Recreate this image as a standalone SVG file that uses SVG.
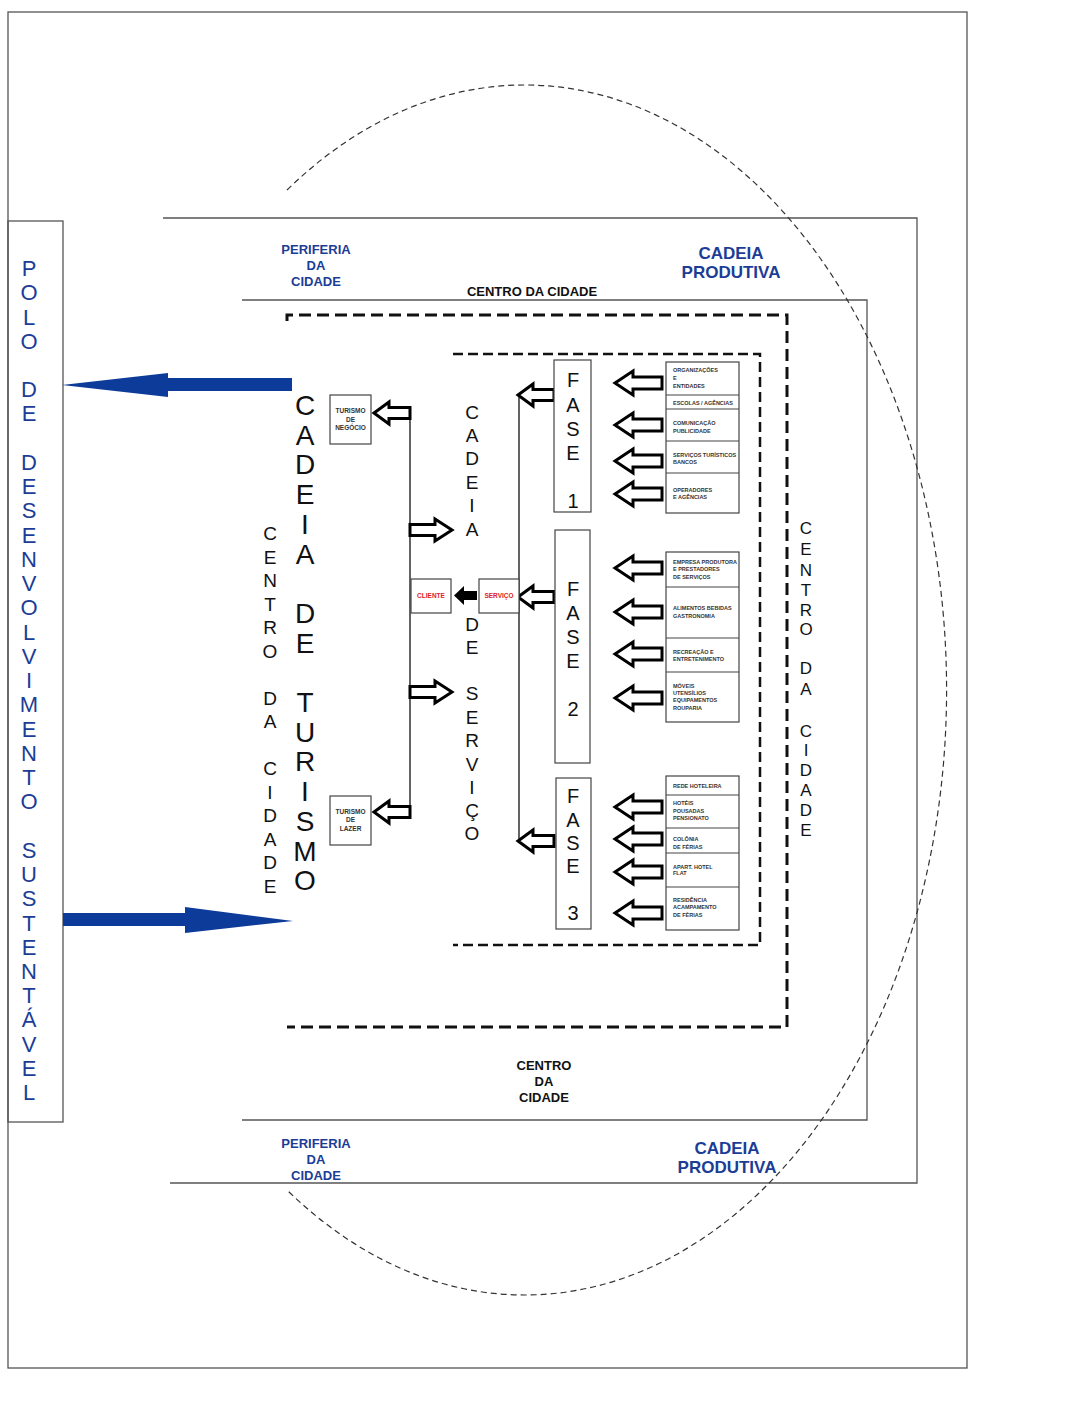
<svg xmlns="http://www.w3.org/2000/svg" xmlns:xlink="http://www.w3.org/1999/xlink" width="1065" height="1423" viewBox="0 0 1065 1423">
<style>
.frame{fill:none;stroke:#555;stroke-width:1.3}
.blk{fill:none;stroke:#222;stroke-width:1.4}
.box{fill:#fff;stroke:#444;stroke-width:1.2}
.harr{fill:#fff;stroke:#000;stroke-width:3;stroke-linejoin:miter}
.blue{fill:#1c3d96;font-family:"Liberation Sans",Arial,sans-serif;font-weight:bold;text-anchor:middle}
.cap{fill:#111;font-family:"Liberation Sans",Arial,sans-serif;font-weight:bold;font-size:13px;text-anchor:middle}
.vert{fill:#111;font-family:"Liberation Sans",Arial,sans-serif;text-anchor:middle}
.polo{fill:#1c3d96;font-family:"Liberation Sans",Arial,sans-serif;font-size:22px;text-anchor:middle}
.sm{fill:#333;font-family:"Liberation Sans",Arial,sans-serif;font-weight:bold;font-size:5.5px}
.tur{fill:#333;font-family:"Liberation Sans",Arial,sans-serif;font-weight:bold;font-size:6.5px;text-anchor:middle}
.red{fill:#e0201e;font-family:"Liberation Sans",Arial,sans-serif;font-weight:bold;font-size:6.5px;text-anchor:middle}
</style>
<defs>
<path id="arrA" d="M0,0 L18,-12 L18,-6 L47,-6 L47,6 L18,6 L18,12 Z"/>
<path id="arrB" d="M0,0 L15,-11 L15,-5.5 L36,-5.5 L36,5.5 L15,5.5 L15,11 Z"/>
<path id="arrR" d="M42,0 L25,-11 L25,-5.5 L0,-5.5 L0,5.5 L25,5.5 L25,11 Z"/>
</defs>
<rect width="1065" height="1423" fill="#fff"/>

<g id="regions">
<rect class="frame" x="8" y="12" width="959" height="1356"/>
<path class="frame" d="M163,218 L917,218 L917,1183 L170,1183"/>
<path class="frame" d="M242,300 L867,300 L867,1120 L242,1120"/>
<path d="M287,321 L287,315 L787,315 L787,1027 L287,1027" fill="none" stroke="#111" stroke-width="3" stroke-dasharray="12 6"/>
<path d="M453,354 L760,354 L760,945 L453,945" fill="none" stroke="#111" stroke-width="2.5" stroke-dasharray="10 5"/>
<path d="M287,190 A422,605 0 1 1 287,1190" fill="none" stroke="#333" stroke-width="1.2" stroke-dasharray="6 4"/>
</g>

<g id="labels">
<text class="blue" font-size="13"><tspan x="316" y="254">PERIFERIA</tspan><tspan x="316" y="270">DA</tspan><tspan x="316" y="286">CIDADE</tspan></text>
<text class="blue" font-size="17"><tspan x="731" y="259">CADEIA</tspan><tspan x="731" y="278">PRODUTIVA</tspan></text>
<text class="cap" x="532" y="296">CENTRO DA CIDADE</text>
<text class="cap"><tspan x="544" y="1070">CENTRO</tspan><tspan x="544" y="1086">DA</tspan><tspan x="544" y="1102">CIDADE</tspan></text>
<text class="blue" font-size="13"><tspan x="316" y="1148">PERIFERIA</tspan><tspan x="316" y="1164">DA</tspan><tspan x="316" y="1180">CIDADE</tspan></text>
<text class="blue" font-size="17"><tspan x="727" y="1154">CADEIA</tspan><tspan x="727" y="1173">PRODUTIVA</tspan></text>
</g>

<g id="polo">
<rect class="frame" x="8" y="221" width="55" height="901"/>
<text class="polo"><tspan x="29" y="276">P</tspan><tspan x="29" y="300">O</tspan><tspan x="29" y="324.5">L</tspan><tspan x="29" y="348.7">O</tspan><tspan x="29" y="397.2">D</tspan><tspan x="29" y="421.4">E</tspan><tspan x="29" y="469.9">D</tspan><tspan x="29" y="494.2">E</tspan><tspan x="29" y="518.4">S</tspan><tspan x="29" y="542.6">E</tspan><tspan x="29" y="566.9">N</tspan><tspan x="29" y="591.1">V</tspan><tspan x="29" y="615.4">O</tspan><tspan x="29" y="639.6">L</tspan><tspan x="29" y="663.8">V</tspan><tspan x="29" y="688.1">I</tspan><tspan x="29" y="712.3">M</tspan><tspan x="29" y="736.6">E</tspan><tspan x="29" y="760.8">N</tspan><tspan x="29" y="785">T</tspan><tspan x="29" y="809.3">O</tspan><tspan x="29" y="857.8">S</tspan><tspan x="29" y="882">U</tspan><tspan x="29" y="906.2">S</tspan><tspan x="29" y="930.5">T</tspan><tspan x="29" y="954.7">E</tspan><tspan x="29" y="979">N</tspan><tspan x="29" y="1003.2">T</tspan><tspan x="29" y="1027.4">Á</tspan><tspan x="29" y="1051.7">V</tspan><tspan x="29" y="1075.9">E</tspan><tspan x="29" y="1100.2">L</tspan></text>
</g>

<g id="blue-arrows" fill="#0d3b9a">
<path d="M292,378 L168,378 L168,373 L62,385 L168,397 L168,391 L292,391 Z"/>
<path d="M63,913 L185,913 L185,907 L293,921 L185,933 L185,926 L63,926 Z"/>
</g>

<g id="centro-esq">
<text class="vert" font-size="19"><tspan x="270" y="540">C</tspan><tspan x="270" y="563.5">E</tspan><tspan x="270" y="587">N</tspan><tspan x="270" y="610.5">T</tspan><tspan x="270" y="634">R</tspan><tspan x="270" y="657.5">O</tspan><tspan x="270" y="704.5">D</tspan><tspan x="270" y="728">A</tspan><tspan x="270" y="775">C</tspan><tspan x="270" y="798.5">I</tspan><tspan x="270" y="822">D</tspan><tspan x="270" y="845.5">A</tspan><tspan x="270" y="869">D</tspan><tspan x="270" y="892.5">E</tspan></text>
</g>

<g id="cadeia-turismo">
<text class="vert" font-size="28"><tspan x="305" y="415">C</tspan><tspan x="305" y="444.7">A</tspan><tspan x="305" y="474.4">D</tspan><tspan x="305" y="504.1">E</tspan><tspan x="305" y="533.8">I</tspan><tspan x="305" y="563.5">A</tspan><tspan x="305" y="622.9">D</tspan><tspan x="305" y="652.6">E</tspan><tspan x="305" y="712">T</tspan><tspan x="305" y="741.7">U</tspan><tspan x="305" y="771.4">R</tspan><tspan x="305" y="801.1">I</tspan><tspan x="305" y="830.8">S</tspan><tspan x="305" y="860.5">M</tspan><tspan x="305" y="890.2">O</tspan></text>
</g>

<g id="cadeia-servico">
<text class="vert" font-size="19"><tspan x="472" y="418.8">C</tspan><tspan x="472" y="442">A</tspan><tspan x="472" y="465">D</tspan><tspan x="472" y="488.5">E</tspan><tspan x="472" y="512">I</tspan><tspan x="472" y="535.5">A</tspan><tspan x="472" y="630.5">D</tspan><tspan x="472" y="653.5">E</tspan><tspan x="472" y="700">S</tspan><tspan x="472" y="723.5">E</tspan><tspan x="472" y="747">R</tspan><tspan x="472" y="770.5">V</tspan><tspan x="472" y="794">I</tspan><tspan x="472" y="817">Ç</tspan><tspan x="472" y="840">O</tspan></text>
</g>

<g id="centro-dir">
<text class="vert" font-size="17"><tspan x="806" y="534">C</tspan><tspan x="806" y="554.5">E</tspan><tspan x="806" y="575.5">N</tspan><tspan x="806" y="595.5">T</tspan><tspan x="806" y="615.5">R</tspan><tspan x="806" y="635">O</tspan><tspan x="806" y="674">D</tspan><tspan x="806" y="695">A</tspan><tspan x="806" y="737">C</tspan><tspan x="806" y="756">I</tspan><tspan x="806" y="776">D</tspan><tspan x="806" y="796">A</tspan><tspan x="806" y="816">D</tspan><tspan x="806" y="836">E</tspan></text>
</g>

<g id="connectors">
<line class="blk" x1="519" y1="395" x2="519" y2="841"/>
<line class="blk" x1="410" y1="407" x2="410" y2="818"/>
<path d="M477,591 L464,591 L464,586 L454,595.5 L464,605 L464,600 L477,600 Z" fill="#000"/>
<use href="#arrB" class="harr" x="518" y="395"/>
<use href="#arrB" class="harr" x="518" y="597"/>
<use href="#arrB" class="harr" x="518" y="841"/>
<use href="#arrB" class="harr" x="374" y="413"/>
<use href="#arrB" class="harr" x="374" y="812"/>
<use href="#arrR" class="harr" x="410" y="530"/>
<use href="#arrR" class="harr" x="410" y="692"/>
<use href="#arrA" class="harr" x="615" y="383"/>
<use href="#arrA" class="harr" x="615" y="425"/>
<use href="#arrA" class="harr" x="615" y="461"/>
<use href="#arrA" class="harr" x="615" y="494"/>
<use href="#arrA" class="harr" x="615" y="568"/>
<use href="#arrA" class="harr" x="615" y="612"/>
<use href="#arrA" class="harr" x="615" y="654"/>
<use href="#arrA" class="harr" x="615" y="698"/>
<use href="#arrA" class="harr" x="615" y="807"/>
<use href="#arrA" class="harr" x="615" y="839"/>
<use href="#arrA" class="harr" x="615" y="872"/>
<use href="#arrA" class="harr" x="615" y="913"/>
</g>

<g id="turismo-negocio">
<rect class="box" x="330" y="395" width="41" height="49"/>
<text class="tur"><tspan x="350.5" y="413">TURISMO</tspan><tspan x="350.5" y="421.5">DE</tspan><tspan x="350.5" y="430">NEGÓCIO</tspan></text>
</g>
<g id="turismo-lazer">
<rect class="box" x="330" y="796" width="41" height="49"/>
<text class="tur"><tspan x="350.5" y="813.5">TURISMO</tspan><tspan x="350.5" y="822">DE</tspan><tspan x="350.5" y="830.5">LAZER</tspan></text>
</g>
<g id="cliente">
<rect class="box" x="411" y="579" width="40" height="34"/>
<text class="red" x="431" y="598">CLIENTE</text>
</g>
<g id="servico">
<rect class="box" x="479" y="579" width="40" height="34"/>
<text class="red" x="499" y="598">SERVIÇO</text>
</g>

<g id="fase1">
<rect class="box" x="554" y="360" width="37" height="152"/>
<text class="vert" font-size="20"><tspan x="573" y="387">F</tspan><tspan x="573" y="412">A</tspan><tspan x="573" y="436">S</tspan><tspan x="573" y="460">E</tspan><tspan x="573" y="508">1</tspan></text>
</g>
<g id="fase2">
<rect class="box" x="555" y="530" width="35" height="233"/>
<text class="vert" font-size="20"><tspan x="573" y="596">F</tspan><tspan x="573" y="620">A</tspan><tspan x="573" y="644">S</tspan><tspan x="573" y="668">E</tspan><tspan x="573" y="716">2</tspan></text>
</g>
<g id="fase3">
<rect class="box" x="556" y="778" width="35" height="151"/>
<text class="vert" font-size="20"><tspan x="573" y="803">F</tspan><tspan x="573" y="827">A</tspan><tspan x="573" y="850">S</tspan><tspan x="573" y="873">E</tspan><tspan x="573" y="920">3</tspan></text>
</g>

<g id="grupo1">
<rect class="box" x="666" y="362" width="73" height="151"/>
<path class="box" d="M666,395 H739 M666,409 H739 M666,441 H739 M666,473 H739"/>
<text class="sm"><tspan x="673" y="372">ORGANIZAÇÕES</tspan><tspan x="673" y="380">E</tspan><tspan x="673" y="388">ENTIDADES</tspan></text>
<text class="sm" x="673" y="405">ESCOLAS / AGÊNCIAS</text>
<text class="sm"><tspan x="673" y="425">COMUNICAÇÃO</tspan><tspan x="673" y="433">PUBLICIDADE</tspan></text>
<text class="sm"><tspan x="673" y="457">SERVIÇOS TURÍSTICOS</tspan><tspan x="673" y="464">BANCOS</tspan></text>
<text class="sm"><tspan x="673" y="492">OPERADORES</tspan><tspan x="673" y="499">E AGÊNCIAS</tspan></text>
</g>

<g id="grupo2">
<rect class="box" x="666" y="552" width="73" height="170"/>
<path class="box" d="M666,587 H739 M666,638 H739 M666,672 H739"/>
<text class="sm"><tspan x="673" y="564">EMPRESA PRODUTORA</tspan><tspan x="673" y="571">E PRESTADORES</tspan><tspan x="673" y="579">DE SERVIÇOS</tspan></text>
<text class="sm"><tspan x="673" y="610">ALIMENTOS BEBIDAS</tspan><tspan x="673" y="618">GASTRONOMIA</tspan></text>
<text class="sm"><tspan x="673" y="654">RECREAÇÃO E</tspan><tspan x="673" y="661">ENTRETENIMENTO</tspan></text>
<text class="sm"><tspan x="673" y="688">MÓVEIS</tspan><tspan x="673" y="695">UTENSÍLIOS</tspan><tspan x="673" y="702">EQUIPAMENTOS</tspan><tspan x="673" y="710">ROUPARIA</tspan></text>
</g>

<g id="grupo3">
<rect class="box" x="666" y="776" width="73" height="154"/>
<path class="box" d="M666,795 H739 M666,828 H739 M666,853 H739 M666,887 H739"/>
<text class="sm" x="673" y="788">REDE HOTELEIRA</text>
<text class="sm"><tspan x="673" y="805">HOTÉIS</tspan><tspan x="673" y="813">POUSADAS</tspan><tspan x="673" y="820">PENSIONATO</tspan></text>
<text class="sm"><tspan x="673" y="841">COLÔNIA</tspan><tspan x="673" y="849">DE FÉRIAS</tspan></text>
<text class="sm"><tspan x="673" y="869">APART. HOTEL</tspan><tspan x="673" y="875">FLAT</tspan></text>
<text class="sm"><tspan x="673" y="902">RESIDÊNCIA</tspan><tspan x="673" y="909">ACAMPAMENTO</tspan><tspan x="673" y="917">DE FÉRIAS</tspan></text>
</g>
</svg>
